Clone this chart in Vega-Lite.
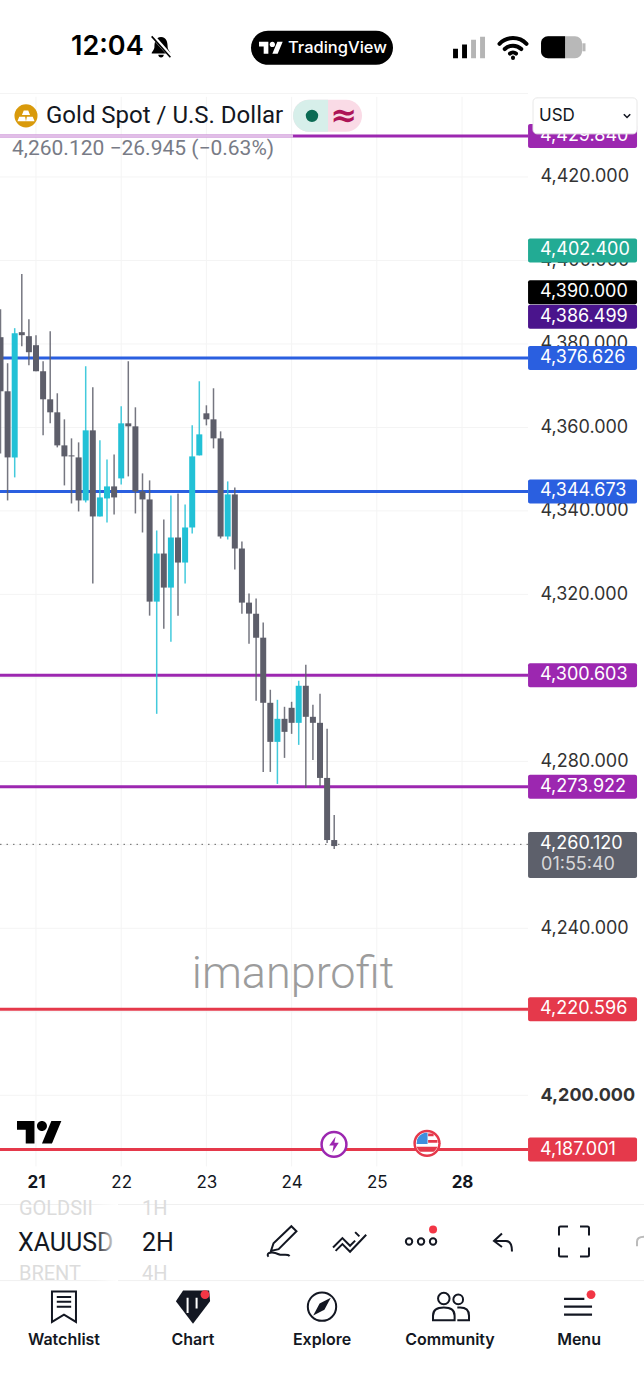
{"$schema":"https://vega.github.io/schema/vega-lite/v6.json","width":644,"height":1400,"padding":0,"background":"white","autosize":{"type":"fit","contains":"padding"},
"config":{"view":{"stroke":null},"text":{"font":"Inter"}},
"data":{"values":[{}]},
"datasets":{
"grid":[{"price":4440},{"price":4420},{"price":4400},{"price":4380},{"price":4360},{"price":4340},{"price":4320},{"price":4300},{"price":4280},{"price":4260},{"price":4240},{"price":4220},{"price":4200}],
"days":[{"bar":0},{"bar":12},{"bar":24},{"bar":36},{"bar":48},{"bar":60}],
"lines":[{"level":4429.84,"kind":"purple"},{"level":4376.626,"kind":"blue"},{"level":4344.673,"kind":"blue"},{"level":4300.603,"kind":"purple"},{"level":4273.922,"kind":"purple"},{"level":4220.596,"kind":"red"},{"level":4187.001,"kind":"red"}],
"tags":[{"level":4429.84,"kind":"purple"},{"level":4402.4,"kind":"green"},{"level":4386.499,"kind":"indigo"},{"level":4376.626,"kind":"blue"},{"level":4344.673,"kind":"blue"},{"level":4300.603,"kind":"purple"},{"level":4273.922,"kind":"purple"},{"level":4220.596,"kind":"red"},{"level":4187.001,"kind":"red"}],
"candles":[
{"i":-5,"open":4381.62,"high":4388.33,"low":4353.78,"close":4368.66,"dir":"down"},
{"i":-4,"open":4368.66,"high":4375.38,"low":4342.51,"close":4352.82,"dir":"down"},
{"i":-3,"open":4352.82,"high":4383.78,"low":4348.03,"close":4382.58,"dir":"up"},
{"i":-2,"open":4382.82,"high":4396.73,"low":4379.46,"close":4382.1,"dir":"down"},
{"i":-1,"open":4381.86,"high":4385.93,"low":4374.9,"close":4378.02,"dir":"down"},
{"i":0,"open":4379.7,"high":4382.1,"low":4373.46,"close":4373.46,"dir":"down"},
{"i":1,"open":4373.46,"high":4375.86,"low":4358.1,"close":4366.74,"dir":"down"},
{"i":2,"open":4366.74,"high":4383.06,"low":4360.98,"close":4363.62,"dir":"down"},
{"i":3,"open":4363.62,"high":4368.18,"low":4355.22,"close":4355.7,"dir":"down"},
{"i":4,"open":4355.7,"high":4361.94,"low":4346.11,"close":4353.06,"dir":"down"},
{"i":5,"open":4353.3,"high":4357.38,"low":4341.79,"close":4353.06,"dir":"down"},
{"i":6,"open":4352.82,"high":4356.42,"low":4339.87,"close":4342.51,"dir":"down"},
{"i":7,"open":4342.51,"high":4374.66,"low":4342.03,"close":4359.3,"dir":"up"},
{"i":8,"open":4359.3,"high":4369.62,"low":4322.59,"close":4338.67,"dir":"down"},
{"i":9,"open":4338.67,"high":4356.9,"low":4338.67,"close":4343.23,"dir":"up"},
{"i":10,"open":4342.99,"high":4352.34,"low":4337.23,"close":4345.87,"dir":"up"},
{"i":11,"open":4345.87,"high":4353.54,"low":4339.15,"close":4343.23,"dir":"down"},
{"i":12,"open":4347.79,"high":4365.06,"low":4346.35,"close":4360.98,"dir":"up"},
{"i":13,"open":4360.98,"high":4375.86,"low":4348.27,"close":4360.26,"dir":"down"},
{"i":14,"open":4360.26,"high":4364.82,"low":4339.39,"close":4344.67,"dir":"down"},
{"i":15,"open":4344.67,"high":4348.99,"low":4334.83,"close":4342.75,"dir":"down"},
{"i":16,"open":4342.75,"high":4347.31,"low":4314.91,"close":4318.27,"dir":"down"},
{"i":17,"open":4318.27,"high":4335.31,"low":4291.39,"close":4329.79,"dir":"up"},
{"i":18,"open":4329.79,"high":4337.95,"low":4311.79,"close":4321.63,"dir":"down"},
{"i":19,"open":4321.63,"high":4343.71,"low":4308.67,"close":4333.63,"dir":"up"},
{"i":20,"open":4333.63,"high":4344.19,"low":4314.91,"close":4327.63,"dir":"down"},
{"i":21,"open":4327.63,"high":4341.55,"low":4322.59,"close":4336.03,"dir":"up"},
{"i":22,"open":4336.03,"high":4360.5,"low":4334.59,"close":4353.06,"dir":"up"},
{"i":23,"open":4353.3,"high":4371.06,"low":4353.3,"close":4358.34,"dir":"up"},
{"i":24,"open":4363.38,"high":4365.3,"low":4360.5,"close":4361.94,"dir":"down"},
{"i":25,"open":4361.94,"high":4369.38,"low":4354.98,"close":4357.38,"dir":"down"},
{"i":26,"open":4357.38,"high":4359.06,"low":4333.39,"close":4333.87,"dir":"down"},
{"i":27,"open":4333.87,"high":4347.07,"low":4333.15,"close":4343.95,"dir":"up"},
{"i":28,"open":4343.95,"high":4345.63,"low":4325.95,"close":4330.99,"dir":"down"},
{"i":29,"open":4330.99,"high":4332.67,"low":4315.39,"close":4318.03,"dir":"down"},
{"i":30,"open":4318.03,"high":4320.19,"low":4308.19,"close":4315.39,"dir":"down"},
{"i":31,"open":4315.39,"high":4318.99,"low":4294.51,"close":4309.63,"dir":"down"},
{"i":32,"open":4309.63,"high":4313.24,"low":4277.47,"close":4294.03,"dir":"down"},
{"i":33,"open":4294.03,"high":4297.15,"low":4277.47,"close":4284.67,"dir":"down"},
{"i":34,"open":4284.67,"high":4294.75,"low":4274.59,"close":4290.19,"dir":"up"},
{"i":35,"open":4290.19,"high":4293.07,"low":4280.83,"close":4287.07,"dir":"down"},
{"i":36,"open":4292.83,"high":4294.27,"low":4286.59,"close":4289.23,"dir":"down"},
{"i":37,"open":4289.23,"high":4299.31,"low":4283.95,"close":4298.11,"dir":"up"},
{"i":38,"open":4298.11,"high":4303.15,"low":4273.63,"close":4290.67,"dir":"down"},
{"i":39,"open":4290.67,"high":4293.55,"low":4280.35,"close":4289.23,"dir":"down"},
{"i":40,"open":4289.23,"high":4296.19,"low":4274.11,"close":4276.03,"dir":"down"},
{"i":41,"open":4276.03,"high":4287.79,"low":4260.43,"close":4261.15,"dir":"down"},
{"i":42,"open":4261.15,"high":4267.15,"low":4258.99,"close":4259.71,"dir":"down"}
]},
"layer":[
{"data":{"name":"grid"},"mark":{"type":"rule","color":"#f4f4f4","strokeWidth":1,"clip":true},"encoding":{
 "y":{"field":"price","type":"quantitative","scale":{"domain":[4127.0,4462.4],"nice":false,"zero":false,"padding":0},"axis":{"orient":"right","offset":-116,"title":null,"grid":false,"domain":false,"ticks":false,"values":[4420,4400,4380,4360,4340,4320,4280,4240,4200],"format":",.3f","labelPadding":12,"labelFont":"Inter","labelFontSize":18,"labelColor":"#333333","labelFontWeight":{"condition":{"test":"datum.value==4200","value":"bold"},"value":"normal"},"labelAlign":"left","labelBaseline":"middle","zindex":0}},
 "x":{"datum":-5.07,"scale":{"domain":[-5.07,85.63],"nice":false,"zero":false,"padding":0},"axis":{"orient":"bottom","offset":-235,"title":null,"grid":false,"domain":false,"ticks":false,"values":[0,12,24,36,48,60],"labelExpr":"datum.value==60?'28':''+(21+datum.value/12)","labelPadding":9,"labelFont":"Inter","labelFontSize":17,"labelColor":"#131722","labelFontWeight":{"condition":{"test":"datum.value==0||datum.value==60","value":"bold"},"value":"normal"},"zindex":0}},"x2":{"datum":69.3}}},
{"data":{"name":"days"},"mark":{"type":"rule","color":"#f4f4f4","strokeWidth":1,"clip":true},"encoding":{
 "x":{"field":"bar","type":"quantitative"},
 "y":{"datum":4439.2},"y2":{"datum":4182.96}}},
{"data":{"name":"lines"},"mark":{"type":"rule","strokeWidth":3,"clip":true},"encoding":{"y":{"field":"level","type":"quantitative"},"x":{"datum":-5.07},"x2":{"datum":69.3},"color":{"field":"kind","type":"nominal","legend":null,"scale":{"domain":["up","down","purple","blue","red","green","black","indigo"],"range":["#22c1d6","#5d5e6a","#9c27b0","#2a5fe0","#e5394b","#22ab94","#000000","#4a148c"]}}}},
{"mark":{"type":"rule","color":"white","strokeWidth":3,"opacity":0.7,"clip":true},"encoding":{"y":{"datum":4429.84},"x":{"datum":-5.07},"x2":{"datum":36.2}}},
{"mark":{"type":"rule","color":"#666666","strokeWidth":1,"strokeDash":[1.5,5],"clip":true},"encoding":{"y":{"datum":4260.12},"x":{"datum":-5.07},"x2":{"datum":69.3}}},
{"data":{"name":"candles"},"mark":{"type":"rule","strokeWidth":1.5,"opacity":0.85,"clip":true},"encoding":{"x":{"field":"i","type":"quantitative"},"y":{"field":"low","type":"quantitative"},"y2":{"field":"high"},"color":{"field":"dir","type":"nominal","legend":null}}},
{"data":{"name":"candles"},"mark":{"type":"bar","orient":"vertical","width":6,"clip":true},"encoding":{"x":{"field":"i","type":"quantitative"},"y":{"field":"open","type":"quantitative"},"y2":{"field":"close"},"color":{"field":"dir","type":"nominal","legend":null}}},
{"data":{"name":"tags"},"mark":{"type":"bar","orient":"horizontal","height":24,"cornerRadius":2},"encoding":{"y":{"field":"level","type":"quantitative"},"x":{"datum":69.3},"x2":{"datum":84.65},"color":{"field":"kind","type":"nominal","legend":null}}},
{"mark":{"type":"bar","orient":"horizontal","height":24,"cornerRadius":2,"color":"#000000"},"encoding":{"y":{"datum":4392.41},"x":{"datum":69.3},"x2":{"datum":84.65}}},
{"mark":{"type":"bar","orient":"vertical","color":"#5d606b","cornerRadius":2},"encoding":{"x":{"datum":69.3},"x2":{"datum":84.65},"y":{"datum":4263.09},"y2":{"datum":4252.06}}},
{"data":{"name":"tags"},"mark":{"type":"text","align":"left","baseline":"middle","fontSize":18,"color":"white","font":"Inter"},"encoding":{"y":{"field":"level","type":"quantitative"},"x":{"datum":70.99},"text":{"field":"level","type":"quantitative","format":",.3f"}}},
{"mark":{"type":"text","text":"4,390.000","align":"left","baseline":"middle","fontSize":18,"color":"white"},"encoding":{"x":{"datum":70.99},"y":{"datum":4392.41}}},
{"mark":{"type":"text","text":"4,260.120","align":"left","baseline":"middle","fontSize":18,"color":"white"},"encoding":{"x":{"datum":70.99},"y":{"datum":4260.12}}},
{"mark":{"type":"text","text":"01:55:40","align":"left","baseline":"middle","fontSize":18,"color":"#d8d8da"},"encoding":{"x":{"datum":71.13},"y":{"datum":4255.18}}},
{"mark":{"type":"text","text":"imanprofit","align":"center","baseline":"middle","fontSize":45,"color":"#9c9c9c","font":"Roboto","fontWeight":300},"encoding":{"x":{"datum":36.2},"y":{"datum":4229.03}}},
{"mark":{"type":"point","shape":"M-0.222,0.5H-0.611V-0.111H-1V-0.5H-0.222ZM0.556,0.5H0.111L0.528,-0.5H0.972ZM-0.111,-0.278a0.222,0.222 0 1 0 0.444,0a0.222,0.222 0 1 0 -0.444,0Z","size":2025,"filled":true,"color":"#000000","opacity":1},"encoding":{"x":{"datum":0.49},"y":{"datum":4191.12}}},
{"mark":{"type":"point","shape":"circle","size":616,"filled":true,"fill":"white","stroke":"#9c27b0","strokeWidth":2.5,"opacity":1},"encoding":{"x":{"datum":41.97},"y":{"datum":4188.24}}},
{"mark":{"type":"point","shape":"M0.2,-1L-0.6,0.15H-0.05L-0.2,1L0.6,-0.2H0.05Z","size":256,"filled":true,"color":"#9c27b0","opacity":1},"encoding":{"x":{"datum":41.97},"y":{"datum":4188.24}}},
{"mark":{"type":"point","shape":"circle","size":616,"filled":true,"fill":"white","stroke":"#e5394b","strokeWidth":2.5,"opacity":1},"encoding":{"x":{"datum":55.07},"y":{"datum":4188.48}}},
{"mark":{"type":"point","shape":"M-0.95,0.3H0.95A1,1 0 0 1 0.6,0.75H-0.6A1,1 0 0 1 -0.95,0.3ZM0.1,-0.3H0.95V-0.05H0.1ZM0.1,-0.9H0.6V-0.65H0.1Z","size":484,"filled":true,"color":"#e5394b","opacity":1},"encoding":{"x":{"datum":55.07},"y":{"datum":4188.48}}},
{"mark":{"type":"point","shape":"M-0.9,-0.35A1,1 0 0 1 -0.2,-0.97H0.05V0.05H-0.95Z","size":484,"filled":true,"color":"#3f8fdc","opacity":1},"encoding":{"x":{"datum":55.07},"y":{"datum":4188.48}}},
{"mark":{"type":"rule","color":"#f0f0f0","strokeWidth":1,"clip":true},"encoding":{"y":{"datum":4173.84},"x":{"datum":-5.07},"x2":{"datum":85.63}}},
{"mark":{"type":"rule","color":"#f0f0f0","strokeWidth":1,"clip":true},"encoding":{"y":{"datum":4155.61},"x":{"datum":-5.07},"x2":{"datum":85.63}}},
{"mark":{"type":"text","text":"GOLDSII","align":"left","baseline":"middle","fontSize":20,"color":"#dcdcdc","font":"Roboto"},"encoding":{"x":{"datum":-2.4},"y":{"datum":4172.65}}},
{"mark":{"type":"text","text":"XAUUSD","align":"left","baseline":"middle","fontSize":25,"color":"#131722","font":"Roboto"},"encoding":{"x":{"datum":-2.54},"y":{"datum":4164.73}}},
{"mark":{"type":"text","text":"BRENT","align":"left","baseline":"middle","fontSize":20,"color":"#dcdcdc","font":"Roboto"},"encoding":{"x":{"datum":-2.4},"y":{"datum":4157.29}}},
{"mark":{"type":"bar","orient":"horizontal","height":80,"color":{"x1":0,"y1":0,"x2":1,"y2":0,"gradient":"linear","stops":[{"offset":0,"color":"rgba(255,255,255,0)"},{"offset":1,"color":"white"}]}},"encoding":{"x":{"datum":8.31},"x2":{"datum":11.55},"y":{"datum":4164.73}}},
{"mark":{"type":"text","text":"1H","align":"left","baseline":"middle","fontSize":20,"color":"#dcdcdc","font":"Roboto"},"encoding":{"x":{"datum":14.93},"y":{"datum":4172.65}}},
{"mark":{"type":"text","text":"2H","align":"left","baseline":"middle","fontSize":25,"color":"#131722","font":"Roboto"},"encoding":{"x":{"datum":14.93},"y":{"datum":4164.73}}},
{"mark":{"type":"text","text":"4H","align":"left","baseline":"middle","fontSize":20,"color":"#dcdcdc","font":"Roboto"},"encoding":{"x":{"datum":14.93},"y":{"datum":4157.29}}},
{"mark":{"type":"point","shape":"M0.55,-0.9L0.85,-0.6L-0.2,0.45L-0.65,0.55L-0.5,0.1ZM-0.8,0.9C-1,0.6 -0.5,0.6 -0.2,0.75C0,0.85 0.3,0.7 0.45,0.85","size":1156,"filled":false,"stroke":"#131722","strokeWidth":2,"opacity":1},"encoding":{"x":{"datum":34.65},"y":{"datum":4164.97}}},
{"mark":{"type":"point","shape":"M-1,0.35L-0.45,-0.2L0,0.25L0.3,-0.05M-0.85,0.55L-0.45,0.15L0,0.6L0.95,-0.4M0.3,-0.55L0.55,-0.3","size":1156,"filled":false,"stroke":"#131722","strokeWidth":2,"opacity":1},"encoding":{"x":{"datum":44.23},"y":{"datum":4164.97}}},
{"mark":{"type":"point","shape":"M-0.95,0a0.2,0.2 0 1 0 0.4,0a0.2,0.2 0 1 0 -0.4,0ZM-0.2,0a0.2,0.2 0 1 0 0.4,0a0.2,0.2 0 1 0 -0.4,0ZM0.55,0a0.2,0.2 0 1 0 0.4,0a0.2,0.2 0 1 0 -0.4,0Z","size":1024,"filled":false,"stroke":"#131722","strokeWidth":2,"opacity":1},"encoding":{"x":{"datum":54.23},"y":{"datum":4164.97}}},
{"mark":{"type":"point","shape":"circle","size":64,"filled":true,"color":"#f23645","opacity":1},"encoding":{"x":{"datum":55.92},"y":{"datum":4167.85}}},
{"mark":{"type":"point","shape":"M-0.1,-0.9L-0.9,-0.15L-0.1,0.45M-0.9,-0.15H0.3C0.7,-0.15 0.9,0.2 0.9,0.9","size":400,"filled":false,"stroke":"#131722","strokeWidth":2,"opacity":1},"encoding":{"x":{"datum":65.77},"y":{"datum":4164.73}}},
{"mark":{"type":"point","shape":"M-0.4,-1H-0.9Q-1,-1 -1,-0.9V-0.4M0.4,-1H0.9Q1,-1 1,-0.9V-0.4M-1,0.4V0.9Q-1,1 -0.9,1H-0.4M1,0.4V0.9Q1,1 0.9,1H0.4","size":900,"filled":false,"stroke":"#131722","strokeWidth":2,"opacity":1},"encoding":{"x":{"datum":75.77},"y":{"datum":4164.97}}},
{"mark":{"type":"point","shape":"M-0.5,0.6V0Q-0.5,-0.6 0.5,-0.6","size":256,"filled":false,"stroke":"#bbbbbb","strokeWidth":2,"opacity":1,"clip":true},"encoding":{"x":{"datum":85.21},"y":{"datum":4164.97}}},
{"mark":{"type":"point","shape":"M-0.75,-0.95H0.75V0.95L0,0.5L-0.75,0.95ZM-0.45,-0.6H0.45M-0.45,-0.3H0.45M-0.45,0H0.45","size":1024,"filled":false,"stroke":"#131722","strokeWidth":2,"opacity":1},"encoding":{"x":{"datum":3.94},"y":{"datum":4149.36}}},
{"mark":{"type":"point","shape":"M-0.95,-0.3L-0.55,-0.9H0.9L0.95,-0.3L0,0.95Z","size":1296,"filled":true,"color":"#131722","opacity":1},"encoding":{"x":{"datum":22.11},"y":{"datum":4149.36}}},
{"mark":{"type":"point","shape":"M-0.3,-0.5V0.35M0.2,-0.5V0.1","size":1296,"filled":false,"stroke":"white","strokeWidth":2,"opacity":1},"encoding":{"x":{"datum":22.11},"y":{"datum":4149.36}}},
{"mark":{"type":"point","shape":"circle","size":79,"filled":true,"color":"#f23645","opacity":1},"encoding":{"x":{"datum":23.8},"y":{"datum":4152.25}}},
{"mark":{"type":"point","shape":"circle","size":804,"filled":false,"stroke":"#131722","strokeWidth":2,"opacity":1},"encoding":{"x":{"datum":40.28},"y":{"datum":4149.36}}},
{"mark":{"type":"point","shape":"M0.55,-0.55L0.15,0.2L-0.55,0.55L-0.15,-0.2Z","size":1024,"filled":true,"color":"#131722","opacity":1},"encoding":{"x":{"datum":40.28},"y":{"datum":4149.36}}},
{"mark":{"type":"point","shape":"M-0.72,-0.45a0.32,0.32 0 1 0 0.64,0a0.32,0.32 0 1 0 -0.64,0ZM0.13,-0.4a0.27,0.27 0 1 0 0.54,0a0.27,0.27 0 1 0 -0.54,0ZM-1,0.75V0.5Q-1,0.05 -0.4,0.05Q0.2,0.05 0.2,0.5V0.75ZM0.35,0.05H0.5Q1,0.05 1,0.5V0.75H0.35","size":1296,"filled":false,"stroke":"#131722","strokeWidth":2,"opacity":1},"encoding":{"x":{"datum":58.45},"y":{"datum":4149.36}}},
{"mark":{"type":"point","shape":"M-1,-0.55H0.45M-1,0H1M-1,0.57H1","size":784,"filled":false,"stroke":"#131722","strokeWidth":2.2,"opacity":1},"encoding":{"x":{"datum":76.34},"y":{"datum":4149.36}}},
{"mark":{"type":"point","shape":"circle","size":79,"filled":true,"color":"#f23645","opacity":1},"encoding":{"x":{"datum":78.17},"y":{"datum":4152.25}}},
{"mark":{"type":"text","text":"Watchlist","align":"center","baseline":"middle","fontSize":16,"fontWeight":600,"color":"#131722"},"encoding":{"x":{"datum":3.94},"y":{"datum":4141.45}}},
{"mark":{"type":"text","text":"Chart","align":"center","baseline":"middle","fontSize":16,"fontWeight":600,"color":"#131722"},"encoding":{"x":{"datum":22.11},"y":{"datum":4141.45}}},
{"mark":{"type":"text","text":"Explore","align":"center","baseline":"middle","fontSize":16,"fontWeight":600,"color":"#131722"},"encoding":{"x":{"datum":40.28},"y":{"datum":4141.45}}},
{"mark":{"type":"text","text":"Community","align":"center","baseline":"middle","fontSize":16,"fontWeight":600,"color":"#131722"},"encoding":{"x":{"datum":58.31},"y":{"datum":4141.45}}},
{"mark":{"type":"text","text":"Menu","align":"center","baseline":"middle","fontSize":16,"fontWeight":600,"color":"#131722"},"encoding":{"x":{"datum":76.48},"y":{"datum":4141.45}}},
{"mark":{"type":"bar","orient":"horizontal","height":36,"color":"white","stroke":"#e8e8e8","strokeWidth":1,"cornerRadius":4},"encoding":{"x":{"datum":70.0},"x2":{"datum":84.65},"y":{"datum":4434.64}}},
{"mark":{"type":"text","text":"USD","align":"left","baseline":"middle","fontSize":17,"color":"#131722"},"encoding":{"x":{"datum":70.85},"y":{"datum":4434.64}}},
{"mark":{"type":"point","shape":"M-0.8,-0.4L0,0.4L0.8,-0.4","size":64,"filled":false,"stroke":"#131722","strokeWidth":1.6,"opacity":1},"encoding":{"x":{"datum":83.24},"y":{"datum":4434.64}}},
{"mark":{"type":"point","shape":"circle","size":531,"filled":true,"color":"#d99a0b","opacity":1},"encoding":{"x":{"datum":-1.41},"y":{"datum":4434.64}}},
{"mark":{"type":"point","shape":"M-0.25,-0.6H0.25L0.45,-0.1H-0.45ZM-0.75,0.1H-0.1L0,0.6H-0.95ZM0.1,0.1H0.75L0.95,0.6H0Z","size":324,"filled":true,"color":"white","opacity":1},"encoding":{"x":{"datum":-1.41},"y":{"datum":4434.64}}},
{"mark":{"type":"text","text":"Gold Spot / U.S. Dollar","align":"left","baseline":"middle","fontSize":24,"color":"#131722","font":"Roboto"},"encoding":{"x":{"datum":1.41},"y":{"datum":4434.64}}},
{"mark":{"type":"text","text":"4,260.120  −26.945 (−0.63%)","align":"left","baseline":"middle","fontSize":21,"color":"#787b86","font":"Roboto"},"encoding":{"x":{"datum":-3.38},"y":{"datum":4426.72}}},
{"mark":{"type":"bar","orient":"horizontal","height":32,"color":"#fadbe6","cornerRadius":16},"encoding":{"x":{"datum":36.2},"x2":{"datum":45.92},"y":{"datum":4434.64}}},
{"mark":{"type":"bar","orient":"horizontal","height":32,"color":"#d7efea","cornerRadiusTopLeft":16,"cornerRadiusBottomLeft":16},"encoding":{"x":{"datum":36.2},"x2":{"datum":41.13},"y":{"datum":4434.64}}},
{"mark":{"type":"point","shape":"circle","size":154,"filled":true,"color":"#0b6b54","opacity":1},"encoding":{"x":{"datum":38.87},"y":{"datum":4434.64}}},
{"mark":{"type":"text","text":"≈","align":"center","baseline":"middle","fontSize":32,"fontWeight":"bold","color":"#ad1457","font":"DejaVu Sans"},"encoding":{"x":{"datum":43.38},"y":{"datum":4434.64}}},
{"mark":{"type":"text","text":"12:04","align":"left","baseline":"middle","fontSize":27,"fontWeight":600,"color":"#000000"},"encoding":{"x":{"datum":4.93},"y":{"datum":4451.19}}},
{"mark":{"type":"point","shape":"M0,-0.9C-0.5,-0.9 -0.6,-0.4 -0.6,0C-0.6,0.3 -0.85,0.45 -0.85,0.6L0.85,0.6C0.85,0.45 0.6,0.3 0.6,0C0.6,-0.4 0.5,-0.9 0,-0.9ZM-0.25,0.72A0.25,0.25 0 0 0 0.25,0.72Z","size":484,"filled":true,"color":"#000000","opacity":1},"encoding":{"x":{"datum":17.61},"y":{"datum":4451.19}}},
{"mark":{"type":"point","shape":"M-0.85,-0.95L0.85,0.95","size":484,"filled":false,"stroke":"white","strokeWidth":4,"opacity":1},"encoding":{"x":{"datum":17.8},"y":{"datum":4451.19}}},
{"mark":{"type":"point","shape":"M-0.85,-0.95L0.85,0.95","size":484,"filled":false,"stroke":"#000000","strokeWidth":1.6,"opacity":1},"encoding":{"x":{"datum":17.61},"y":{"datum":4451.19}}},
{"mark":{"type":"bar","orient":"horizontal","height":34,"color":"#000000","cornerRadius":17},"encoding":{"x":{"datum":30.28},"x2":{"datum":50.28},"y":{"datum":4450.95}}},
{"mark":{"type":"point","shape":"M-0.222,0.5H-0.611V-0.111H-1V-0.5H-0.222ZM0.556,0.5H0.111L0.528,-0.5H0.972ZM-0.111,-0.278a0.222,0.222 0 1 0 0.444,0a0.222,0.222 0 1 0 -0.444,0Z","size":576,"filled":true,"color":"white","opacity":1},"encoding":{"x":{"datum":33.1},"y":{"datum":4450.95}}},
{"mark":{"type":"text","text":"TradingView","align":"left","baseline":"middle","fontSize":16.5,"fontWeight":500,"color":"white"},"encoding":{"x":{"datum":35.49},"y":{"datum":4450.95}}},
{"mark":{"type":"point","shape":"M-0.97,0.06H-0.68V0.62H-0.97ZM-0.44,-0.2H-0.15V0.62H-0.44Z","size":1156,"filled":true,"color":"#000000","opacity":1},"encoding":{"x":{"datum":61.06},"y":{"datum":4450.95}}},
{"mark":{"type":"point","shape":"M0.09,-0.47H0.38V0.62H0.09ZM0.62,-0.65H0.91V0.62H0.62Z","size":1156,"filled":true,"color":"#b5b5b5","opacity":1},"encoding":{"x":{"datum":61.06},"y":{"datum":4450.95}}},
{"mark":{"type":"point","shape":"M-0.9,-0.2A1.25,1.25 0 0 1 0.9,-0.2M-0.55,0.15A0.78,0.78 0 0 1 0.55,0.15M-0.2,0.45A0.3,0.3 0 0 1 0.2,0.45M0,0.72L0,0.74","size":900,"filled":false,"stroke":"#000000","strokeWidth":4,"strokeCap":"round","opacity":1},"encoding":{"x":{"datum":67.18},"y":{"datum":4451.19}}},
{"mark":{"type":"bar","orient":"horizontal","height":22,"color":"#b8b8b8","cornerRadius":7},"encoding":{"x":{"datum":71.13},"x2":{"datum":76.9},"y":{"datum":4451.07}}},
{"mark":{"type":"bar","orient":"horizontal","height":22,"color":"#000000","cornerRadiusTopLeft":7,"cornerRadiusBottomLeft":7},"encoding":{"x":{"datum":71.13},"x2":{"datum":74.51},"y":{"datum":4451.07}}},
{"mark":{"type":"bar","orient":"horizontal","height":8,"color":"#b8b8b8"},"encoding":{"x":{"datum":76.95},"x2":{"datum":77.39},"y":{"datum":4451.07}}}
]}
